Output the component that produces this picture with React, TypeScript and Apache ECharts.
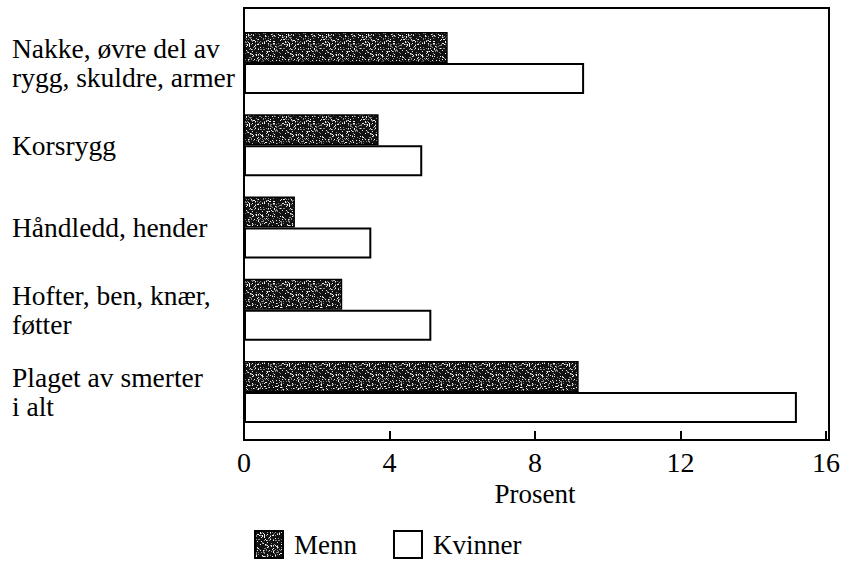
import React, { useEffect, useRef } from "react";
import * as echarts from "echarts";

const categories = [
  "Nakke, øvre del av\nrygg, skuldre, armer",
  "Korsrygg",
  "Håndledd, hender",
  "Hofter, ben, knær,\nføtter",
  "Plaget av smerter\ni alt",
];
const menn = [5.6, 3.7, 1.4, 2.7, 9.2];
const kvinner = [9.35, 4.9, 3.5, 5.15, 15.2];
const xTicks = { min: 0, max: 16, interval: 4 };
const seriesNames = ["Menn", "Kvinner"];

function makeTexture(): HTMLCanvasElement {
  const c = document.createElement("canvas");
  c.width = 40;
  c.height = 40;
  const ctx = c.getContext("2d")!;
  ctx.fillStyle = "#121212";
  ctx.fillRect(0, 0, 40, 40);
  for (let y = 0; y < 40; y++) {
    for (let x = 0; x < 40; x++) {
      const h = ((x * 73856093) ^ (y * 19349663) ^ (x * y * 83492791)) >>> 0;
      const v = h % 100;
      if (v < 24) {
        ctx.fillStyle = v < 11 ? "#f0f0f0" : "#8a8a8a";
        ctx.fillRect(x, y, 1, 1);
      }
    }
  }
  return c;
}

export default function App() {
  const ref = useRef<HTMLDivElement>(null);
  useEffect(() => {
    if (!ref.current) return;
    document.body.style.margin = "0";
    const chart = echarts.init(ref.current, null, { renderer: "svg" });
    const font = "'Liberation Serif', 'Times New Roman', serif";
    const texture = makeTexture();
    chart.setOption({
      animation: false,
      textStyle: { fontFamily: font, color: "#000" },
      grid: { left: 244, right: 14, top: 22, bottom: 128, containLabel: false },
      graphic: [
        {
          type: "rect",
          shape: { x: 244, y: 8, width: 585, height: 432 },
          style: { fill: "none", stroke: "#000", lineWidth: 2 },
          silent: true,
          z: 10,
        },
      ],
      legend: {
        data: seriesNames,
        left: 249,
        top: 525,
        icon: "rect",
        itemWidth: 28,
        itemHeight: 27,
        itemGap: 36,
        textStyle: { fontFamily: font, fontSize: 27, color: "#000", padding: [0, 0, 0, 6] },
      },
      xAxis: {
        type: "value",
        min: xTicks.min,
        max: xTicks.max,
        interval: xTicks.interval,
        offset: 7,
        splitLine: { show: false },
        axisLine: { show: true, lineStyle: { color: "#000", width: 2 } },
        axisTick: { show: true, inside: true, length: 9, lineStyle: { color: "#000", width: 2 } },
        axisLabel: { fontFamily: font, fontSize: 28, color: "#000", margin: 8 },
        name: "Prosent",
        nameLocation: "middle",
        nameGap: 40,
        nameTextStyle: { fontFamily: font, fontSize: 27, color: "#000" },
      },
      yAxis: {
        type: "category",
        data: categories,
        inverse: true,
        axisLine: { show: false },
        axisTick: { show: false },
        axisLabel: {
          fontFamily: font,
          fontSize: 27.5,
          lineHeight: 29,
          color: "#000",
          align: "left",
          margin: 232,
        },
      },
      series: [
        {
          name: seriesNames[0],
          type: "bar",
          data: menn,
          barWidth: 31,
          barGap: "0%",
          itemStyle: {
            color: { image: texture, repeat: "repeat" } as any,
            borderColor: "#000",
            borderWidth: 1.5,
          },
        },
        {
          name: seriesNames[1],
          type: "bar",
          data: kvinner,
          barWidth: 31,
          barGap: "0%",
          itemStyle: { color: "#fff", borderColor: "#000", borderWidth: 2 },
        },
      ],
    });
    return () => chart.dispose();
  }, []);
  return <div ref={ref} style={{ width: 843, height: 561 }} />;
}
